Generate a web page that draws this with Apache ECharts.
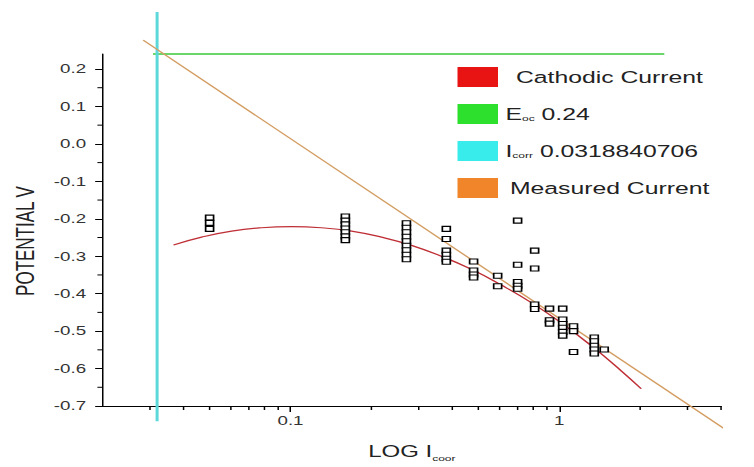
<!DOCTYPE html>
<html>
<head>
<meta charset="utf-8">
<script src="https://cdn.jsdelivr.net/npm/echarts@6/dist/echarts.min.js"></script>
<style>
html, body { margin: 0; padding: 0; background: #fff; overflow: hidden; }
/* the source picture is stretched sideways, so the chart is too */
#chart-container { width: 503px; height: 467px; transform: scaleX(1.5); transform-origin: 0 0; }
</style>
</head>
<body>
<div id="chart-container"></div>
<script>
var dom = document.getElementById('chart-container');
var myChart = echarts.init(dom, null, { renderer: 'svg' });

const fontFamily = "'Liberation Sans', Arial, sans-serif";

// axes
const xMin = 0.02, xMax = 4;
const yMin = -0.7, yMax = 0.24;
const xTicks = [0.1, 1];
const xMinorTicks = [0.03, 0.04, 0.05, 0.06, 0.07, 0.08, 0.09, 0.2, 0.3, 0.4, 0.5, 0.6, 0.7, 0.8, 0.9, 2, 3, 4];
const yTicks = [-0.7, -0.6, -0.5, -0.4, -0.3, -0.2, -0.1, 0.0, 0.1, 0.2];
const yMinorTicks = [-0.65, -0.55, -0.45, -0.35, -0.25, -0.15, -0.05, 0.05, 0.15];

// fitted cathodic curve
const cathodicX = [0.0367, 0.0467, 0.0604, 0.078, 0.1009, 0.1303, 0.1687, 0.2178, 0.2818, 0.3641, 0.471, 0.6086, 0.787, 1.017, 1.315, 1.70, 2.018];
const cathodicY = [-0.270, -0.249, -0.233, -0.224, -0.221, -0.224, -0.233, -0.249, -0.271, -0.300, -0.335, -0.377, -0.424, -0.478, -0.539, -0.606, -0.654];

// Eoc / Icorr markers
const eocValue = 0.24;
const eocX = [0.0308, 2.46];
const icorrValue = 0.0318840706;
const icorrY = [0.352, -0.741];

// measured current (tafel line)
const measuredX = [0.0283, 5.6];
const measuredY = [0.277, -0.825];

// measured points, one column per current value
const pointX = [0.05, 0.16, 0.27, 0.38, 0.48, 0.59, 0.70, 0.81, 0.92, 1.03, 1.13, 1.35, 1.47];
const pointY = [
    [-0.197, -0.211, -0.227],
    [-0.194, -0.205, -0.215, -0.226, -0.236, -0.247, -0.257],
    [-0.212, -0.224, -0.236, -0.248, -0.260, -0.272, -0.284, -0.296, -0.308],
    [-0.227, -0.254, -0.285, -0.296, -0.307, -0.315],
    [-0.314, -0.338, -0.349, -0.357],
    [-0.352, -0.380],
    [-0.205, -0.323, -0.369, -0.379, -0.387],
    [-0.285, -0.333, -0.429, -0.441],
    [-0.440, -0.471, -0.480],
    [-0.440, -0.469, -0.481, -0.491, -0.502, -0.512],
    [-0.487, -0.500, -0.556],
    [-0.517, -0.527, -0.539, -0.549, -0.560],
    [-0.549]
];

const eocName = 'Eoc ' + eocValue;
const icorrName = 'Icorr ' + icorrValue;

let cathodicData = cathodicX.map(function (x, i) { return [x, cathodicY[i]]; });
let measuredData = measuredX.map(function (x, i) { return [x, measuredY[i]]; });
let pointData = [];
pointX.forEach(function (x, i) {
    pointY[i].forEach(function (y) { pointData.push([x, y]); });
});

function legendText(name) {
    if (name === eocName) return '{t|E}{s|oc}{t| ' + eocValue + '}';
    if (name === icorrName) return '{t|I}{s|corr}{t| ' + icorrValue + '}';
    if (name === 'Cathodic Current') return '{c|' + name + '}';
    return '{m|' + name + '}';
}

// small minor ticks drawn on the axis lines
function xTickItem(params, api) {
    var p = api.coord([api.value(0), yMin]);
    return { type: 'line', shape: { x1: p[0], y1: p[1], x2: p[0], y2: p[1] + 4 }, style: { stroke: '#000', lineWidth: 1 } };
}
function yTickItem(params, api) {
    var p = api.coord([xMin, api.value(1)]);
    return { type: 'line', shape: { x1: p[0], y1: p[1], x2: p[0] - 3.5, y2: p[1] }, style: { stroke: '#000', lineWidth: 1 } };
}

var option = {
    animation: false,
    backgroundColor: '#fff',
    textStyle: { fontFamily: fontFamily },
    grid: { left: 68.3, right: 22.3, top: 54, bottom: 60.5 },
    legend: {
        orient: 'vertical',
        left: 305,
        top: 67,
        padding: 0,
        icon: 'rect',
        itemWidth: 27,
        itemHeight: 20,
        itemGap: 17,
        itemStyle: { borderWidth: 0 },
        data: ['Cathodic Current', eocName, icorrName, 'Measured Current'],
        formatter: legendText,
        textStyle: {
            fontFamily: fontFamily,
            rich: {
                t: { fontSize: 16.5, color: '#222', fontFamily: fontFamily },
                s: { fontSize: 8, color: '#222', verticalAlign: 'bottom', fontFamily: fontFamily },
                c: { fontSize: 16.5, color: '#222', padding: [0, 0, 0, 7], fontFamily: fontFamily },
                m: { fontSize: 16.5, color: '#222', padding: [0, 0, 0, 3], fontFamily: fontFamily }
            }
        }
    },
    xAxis: {
        type: 'log',
        logBase: 10,
        min: xMin,
        max: xMax,
        name: '{t|LOG I}{s|coor}',
        nameLocation: 'middle',
        nameGap: 36,
        nameTextStyle: {
            rich: {
                t: { fontSize: 16, color: '#222', fontFamily: fontFamily, lineHeight: 20 },
                s: { fontSize: 8, color: '#222', fontFamily: fontFamily, verticalAlign: 'bottom' }
            }
        },
        splitLine: { show: false },
        axisLine: { onZero: false, lineStyle: { color: '#000', width: 1 } },
        axisTick: { customValues: xTicks, length: 6, lineStyle: { color: '#000' } },
        axisLabel: {
            customValues: xTicks,
            margin: 8,
            fontSize: 12.5,
            color: '#333',
            fontFamily: fontFamily,
            formatter: function (v) { return String(v); }
        }
    },
    yAxis: {
        type: 'value',
        min: yMin,
        max: yMax,
        interval: 0.1,
        name: 'POTENTIAL V',
        nameLocation: 'middle',
        nameGap: 42,
        nameTextStyle: { fontSize: 17, color: '#222', fontFamily: fontFamily, padding: [0, 22, 0, 0] },
        splitLine: { show: false },
        axisLine: { onZero: false, lineStyle: { color: '#000', width: 1 } },
        axisTick: { customValues: yTicks, length: 5, lineStyle: { color: '#000' } },
        axisLabel: {
            customValues: yTicks,
            margin: 11,
            fontSize: 12.5,
            color: '#333',
            fontFamily: fontFamily,
            formatter: function (v) { return v.toFixed(1); }
        }
    },
    series: [
        {
            name: 'Cathodic Current',
            type: 'line',
            smooth: true,
            symbol: 'none',
            data: cathodicData,
            itemStyle: { color: '#e81414' },
            lineStyle: { color: '#bf2f36', width: 1.2 },
            z: 3
        },
        {
            name: eocName,
            type: 'line',
            symbol: 'none',
            clip: false,
            data: eocX.map(function (x) { return [x, eocValue]; }),
            itemStyle: { color: '#2ee02e' },
            lineStyle: { color: '#6ad66a', width: 2 },
            z: 2
        },
        {
            name: icorrName,
            type: 'line',
            symbol: 'none',
            clip: false,
            data: icorrY.map(function (y) { return [icorrValue, y]; }),
            itemStyle: { color: '#38ecec' },
            lineStyle: { color: '#5cd8da', width: 2 },
            z: 2
        },
        {
            name: 'Measured Current',
            type: 'line',
            symbol: 'none',
            clip: false,
            data: measuredData,
            itemStyle: { color: '#f0852a' },
            lineStyle: { color: '#d39d62', width: 1.2 },
            z: 2
        },
        {
            name: 'points',
            type: 'scatter',
            symbol: 'rect',
            symbolSize: [5.3, 5],
            data: pointData,
            itemStyle: { color: '#fff', borderColor: '#000', borderWidth: 1.1, opacity: 1 },
            z: 5
        },
        {
            type: 'custom',
            silent: true,
            data: xMinorTicks.map(function (x) { return [x, yMin]; }),
            renderItem: xTickItem,
            z: 6
        },
        {
            type: 'custom',
            silent: true,
            data: yMinorTicks.map(function (y) { return [xMin, y]; }),
            renderItem: yTickItem,
            z: 6
        }
    ]
};

if (option && typeof option === 'object') {
    myChart.setOption(option);
}

window.addEventListener('resize', myChart.resize);
</script>
</body>
</html>
